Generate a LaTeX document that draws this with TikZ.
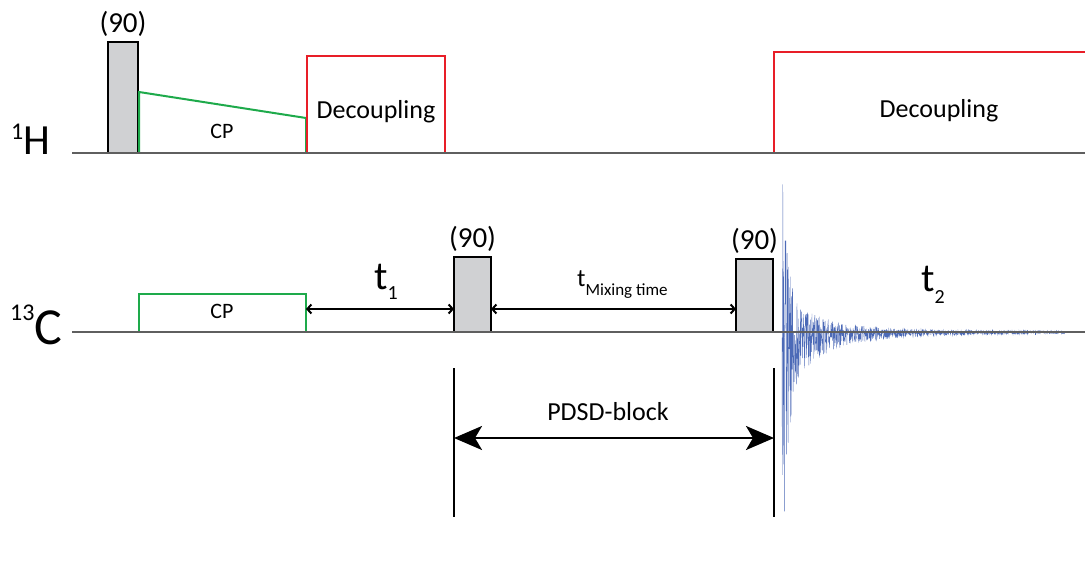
\documentclass[tikz,border=0pt]{standalone}
\usepackage{fontspec}
\setmainfont{Carlito}
\usetikzlibrary{arrows.meta,positioning}
\definecolor{pulsegray}{RGB}{208,209,211}
\definecolor{cpgreen}{RGB}{30,170,75}
\definecolor{decred}{RGB}{232,30,40}
\definecolor{fidblue}{RGB}{45,80,170}
\definecolor{axisgray}{RGB}{95,95,95}

\begin{document}
\begin{tikzpicture}[x=1pt,y=-1pt,
    pulse/.style={draw=black,line width=2pt,fill=pulsegray,inner sep=0pt,outer sep=0pt,anchor=south west},
    axisln/.style={axisgray,line width=1.6pt},
    cp/.style={cpgreen,line width=2pt},
    dec/.style={decred,line width=2pt},
    delay/.style={line width=2pt,{Straight Barb[length=4pt,width=9pt]}-{Straight Barb[length=4pt,width=9pt]}},
    block/.style={line width=2.5pt,{Stealth[length=28pt,width=24pt,inset=7pt]}-{Stealth[length=28pt,width=24pt,inset=7pt]}},
    txt/.style={inner sep=0pt,font=\fontsize{26}{26}\selectfont}]
  \useasboundingbox (0,0) rectangle (1085,564);
  % Channel labels
  \node[inner sep=0pt,anchor=base west] (hlbl) at (11,155)
    {{\fontsize{24}{24}\selectfont\raisebox{15pt}{1}}{\fontsize{43}{43}\selectfont H}};
  \node[inner sep=0pt,anchor=base west] (clbl) at (10,344)
    {{\fontsize{24}{24}\selectfont\raisebox{24pt}{13}}{\fontsize{52}{52}\selectfont C}};
  % 1H channel
  \coordinate (h0) at (72,153);
  \coordinate (h1) at (1085,153);
  \node[pulse,minimum width=30pt,minimum height=111pt] (hp) at (108,153) {};
  \node[txt,font=\fontsize{29}{29}\selectfont,above=5pt of hp] (hplbl) {(90)};
  \draw[cp] (139,153) -- (139,92) -- (306,118) -- (306,153);
  \node[txt,font=\fontsize{22}{22}\selectfont,anchor=base] (hcp) at (222,139) {CP};
  \draw[dec] (307,153) -- (307,56) -- (445,56) -- (445,153);
  \node[txt,anchor=base] (dec1) at (376,119) {Decoupling};
  \draw[dec] (774,153) -- (774,52) -- (1085,52);
  \node[txt,anchor=base] (dec2) at (939,118) {Decoupling};
  \draw[axisln] (h0) -- (h1);
  % 13C channel
  \coordinate (c0) at (72,332);
  \coordinate (c1) at (1085,332);
  \draw[cp] (139,332) -- (139,294) -- (306,294) -- (306,332);
  \node[txt,font=\fontsize{22}{22}\selectfont,anchor=base] (ccp) at (222,319) {CP};
  \node[pulse,minimum width=37pt,minimum height=75pt] (cp1) at (454,332) {};
  \node[pulse,minimum width=37pt,minimum height=73pt] (cp2) at (736,332) {};
  \node[txt,font=\fontsize{29}{29}\selectfont,above=5pt of cp1] (cp1lbl) {(90)};
  \node[txt,font=\fontsize{29}{29}\selectfont,above=5pt of cp2] (cp2lbl) {(90)};
  % FID
  \pgfmathsetseed{7}
  \draw[fidblue,line width=0.35pt,opacity=0.85] plot[domain=782:1066,samples=1100]
    (\x,{332-(150*exp(max(min(-(\x-784)/4,0),-9))+40*exp(max(min(-(\x-784)/30,0),-9))+10*exp(min(-(\x-784)/80,0))+2*exp(-(\x-784)/400))*(rand-0.25)});
  \draw[axisln] (c0) -- (c1);
  % Delays
  \coordinate (cpend) at (306,309);
  \draw[delay] (cpend) -- (cp1.west |- cpend);
  \draw[delay] (cp1.east |- cpend) -- (cp2.west |- cpend);
  \node[inner sep=0pt,anchor=base west] (t1) at (374,290)
    {{\fontsize{40}{40}\selectfont t}{\fontsize{20}{20}\selectfont\raisebox{-10pt}{1}}};
  \node[inner sep=0pt,anchor=base west] (tmix) at (577,287)
    {{\fontsize{25}{25}\selectfont t}{\fontsize{17}{17}\selectfont\raisebox{-9pt}{Mixing time}}};
  \node[inner sep=0pt,anchor=base west] (t2) at (921,292)
    {{\fontsize{40}{40}\selectfont t}{\fontsize{20}{20}\selectfont\raisebox{-11pt}{2}}};
  % PDSD block
  \coordinate (pdl) at (454,368);
  \coordinate (pdr) at (774,368);
  \coordinate (pdlb) at (454,517);
  \coordinate (pdrb) at (774,517);
  \draw[line width=2pt] (pdl) -- (pdlb);
  \draw[line width=2pt] (pdr) -- (pdrb);
  \coordinate (pdm) at (454,438);
  \draw[block] (pdm) -- (pdr |- pdm);
  \node[txt,anchor=base] (pdsd) at (608,420) {PDSD-block};
\end{tikzpicture}
\end{document}
